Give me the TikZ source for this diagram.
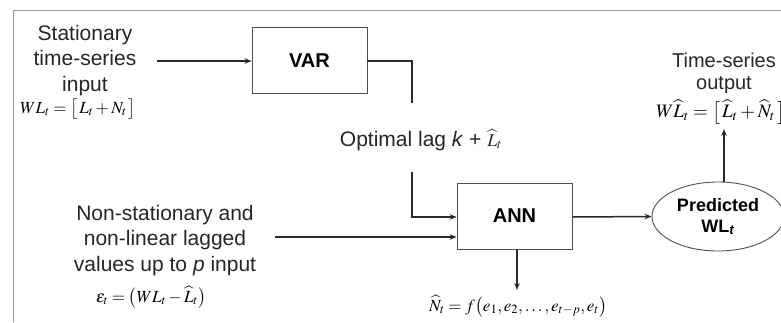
\documentclass[tikz,border=0pt]{standalone}
\usepackage{mathptmx}
\usepackage{fontspec}
\setmainfont{Liberation Sans}
\usetikzlibrary{shapes.geometric,arrows.meta}
\definecolor{linec}{HTML}{2A2A2A}
\definecolor{boxc}{HTML}{505050}
\definecolor{framec}{HTML}{9A9A9A}
\tikzset{
  blockbox/.style={draw=boxc, line width=0.9pt, minimum width=115pt, minimum height=66pt, inner sep=0pt, font=\fontsize{20}{24}\selectfont\bfseries},
  ovalbox/.style={ellipse, draw=boxc, line width=0.9pt, minimum width=132pt, minimum height=69pt, inner sep=0pt, align=center, font=\fontsize{18}{21}\selectfont\bfseries},
  lbl/.style={align=center, inner sep=0pt, text=black!85, font=\fontsize{21}{25.5}\selectfont},
  fml/.style={inner sep=1pt, font=\fontsize{17}{20}\selectfont},
  conn/.style={draw=linec, line width=1.5pt},
  arr/.style={conn, -{Stealth[length=7pt,width=5.5pt]}},
}
\begin{document}
\begin{tikzpicture}[x=1pt,y=-1pt]
\useasboundingbox (0,0) rectangle (781,322);
\draw[framec, line width=1pt] (13,322) -- (13,10) -- (790,10);

\node[blockbox] (var) at (309.5,60.5) {VAR};
\node[blockbox] (ann) at (514.5,216) {ANN};
\node[ovalbox] (pred) at (718,216.5) {Predicted\\WL\textsubscript{\textit{t}}};

\node[lbl, anchor=north] (statin) at (85,25) {Stationary\\time-series\\input};
\node[fml] (statf) at (78,109) {$WL_t=\bigl[\,L_t+N_t\,\bigr]$};
\coordinate (statsrc) at (157,61);

\node[lbl, anchor=north] (nonst) at (165,205) {Non-stationary and\\non-linear lagged\\values up to \textit{p} input};
\node[fml] (epsf) at (151,297) {$\varepsilon_t=\bigl(WL_t-\widehat{L}_t\bigr)$};
\coordinate (nonsrc) at (275,237);

\node[lbl] (optlag) at (421,140) {Optimal lag \textit{k} + {\fontsize{18}{20}\selectfont$\widehat{L}_t$}};
\coordinate (varturn) at (412,61);
\coordinate (varend) at (412,103);
\coordinate (annstart) at (412,172);
\coordinate (annturn) at (412,217);

\node[lbl, anchor=north, font=\fontsize{20}{22}\selectfont] (tsout) at (724,53) {Time-series\\output};
\node[fml, anchor=west, font=\fontsize{19}{22}\selectfont] (outf) at (655,112) {$W\widehat{L}_t=\bigl[\,\widehat{L}_t+\widehat{N}_t\,\bigr]$};

\node[fml] (nf) at (518,306) {$\widehat{N}_t=f\bigl(e_1,e_2,\ldots,e_{t-p},e_t\bigr)$};

\draw[arr] (statsrc) -- (var.west |- statsrc);
\draw[conn] (var.east |- varturn) -- (varturn) -- (varend);
\draw[arr] (annstart) -- (annturn) -- (ann.west |- annturn);
\draw[arr] (nonsrc) -- (ann.west |- nonsrc);
\draw[arr] (ann.east |- 0,217) -- (pred.west);
\draw[arr] (ann.south -| 517,0) -- (517,290);
\draw[arr] (pred.north -| 724,0) -- (724,129);
\end{tikzpicture}
\end{document}
